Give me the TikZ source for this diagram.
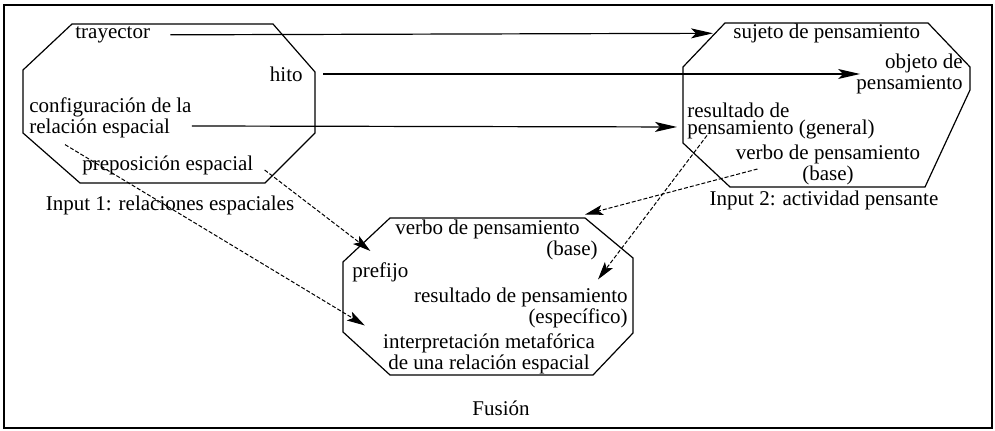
\documentclass[tikz,border=0pt]{standalone}
\usepackage{fontspec}
\setmainfont{Liberation Serif}
\usetikzlibrary{arrows.meta, positioning}

\begin{document}
\begin{tikzpicture}[x=0.5pt, y=-0.5pt,
  lbl/.style={inner sep=0pt, font=\fontsize{10.5}{7.5}\selectfont},
  space/.style={line width=0.6pt},
  mapsolid/.style={-{Stealth[length=11pt, width=5pt, inset=2.5pt]}, line width=0.6pt},
  mapdash/.style={-{Stealth[length=9pt, width=5pt, inset=2pt]}, line width=0.5pt, dash pattern=on 2pt off 1pt}]
  \useasboundingbox (0,0) rectangle (995,431);

  % Frame
  \draw[line width=0.7pt] (4,5) rectangle (992,428);

  % Input 1
  \draw[space] (72,24) -- (273,24) -- (315,72) -- (315,133) -- (265,183) -- (80,183) -- (23,133) -- (23,70) -- cycle;
  \node[lbl, anchor=west] (tray) at (75,35) {trayector};
  \node[lbl, anchor=east] (hito) at (303,74) {hito};
  \node[lbl, anchor=west, align=left, font=\fontsize{10.5}{8.5}\selectfont] (conf) at (29,118) {configuración de la\\relación espacial};
  \node[lbl, anchor=west] (prep) at (82,165) {preposición espacial};
  \node[lbl] (inA) at (170,205) {Input 1: relaciones espaciales};

  % Input 2
  \draw[space] (725,23) -- (928,23) -- (970,67) -- (970,90) -- (925,187) -- (730,187) -- (683,143) -- (683,67) -- cycle;
  \node[lbl, anchor=west] (suj) at (733,33) {sujeto de pensamiento};
  \node[lbl, anchor=east, align=right, font=\fontsize{10.5}{7}\selectfont] (obj) at (963,74) {objeto de\\pensamiento};
  \node[lbl, anchor=west, align=left, font=\fontsize{10.5}{8.5}\selectfont] (resg) at (687,121) {resultado de\\pensamiento (general)};
  \node[lbl, align=center] (verbA) at (828,165) {verbo de pensamiento\\(base)};
  \node[lbl] (inB) at (824,200) {Input 2: actividad pensante};

  % Fusion
  \draw[space] (390,218) -- (585,218) -- (633,258) -- (633,333) -- (593,375) -- (390,375) -- (343,332) -- (343,262) -- cycle;
  \node[lbl, anchor=east, align=right] (verbB) at (580,240) {verbo de pensamiento\\(base)\hspace*{-9pt}};
  \node[lbl, anchor=west] (pref) at (352,272) {prefijo};
  \node[lbl, anchor=east, align=right, font=\fontsize{10.5}{8.5}\selectfont] (rese) at (628,308) {resultado de pensamiento\\(específico)};
  \node[lbl, align=center, font=\fontsize{10.5}{9}\selectfont] (interp) at (489,354) {interpretación metafórica\\de una relación espacial};
  \node[lbl] (fus) at (501,408) {Fusión};

  % Solid mappings
  \draw[mapsolid, shorten <=10pt, shorten >=10pt] (tray) -- (suj);
  \draw[mapsolid, shorten <=10pt, shorten >=-2pt] (hito) -- (obj);
  \draw[mapsolid, shorten >=5pt] ([yshift=-4pt]conf.east) -- ([yshift=-3pt]resg.west);

  % Dashed projections
  \draw[mapdash] ([shift={(11,5)}]prep.east) -- ([shift={(-10,-11)}]pref.north);
  \draw[mapdash] ([shift={(36,6)}]conf.south west) -- ([shift={(-18,-8)}]interp.north west);
  \draw[mapdash] ([shift={(22,4)}]verbA.west) -- ([shift={(5,-5)}]verbB.north east);
  \draw[mapdash] ([shift={(20,-4)}]resg.south west) -- ([shift={(-30,-8)}]rese.north east);
\end{tikzpicture}
\end{document}
